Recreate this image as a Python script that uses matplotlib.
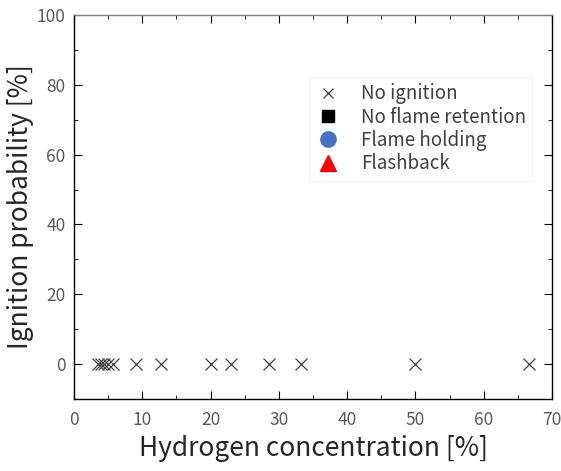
import matplotlib
matplotlib.use("Agg")
import matplotlib.pyplot as plt
from matplotlib.ticker import MultipleLocator
from matplotlib.lines import Line2D

plt.rcParams['font.family'] = ['Noto Sans CJK JP', 'DejaVu Sans']

# data
no_ignition_x = [3.5, 4.0, 4.4, 4.9, 5.7, 9.1, 12.8, 20.0, 23.0, 28.6, 33.3, 50.0, 66.7]
no_ignition_y = [0, 0, 0, 0, 0, 0, 0, 0, 0, 0, 0, 0, 0]
legend_labels = ["No ignition", "No flame retention", "Flame holding", "Flashback"]

fig = plt.figure(figsize=(5.61, 4.71), dpi=100)
ax = fig.add_axes([0.132, 0.153, 0.852, 0.815])

# points
ax.plot(no_ignition_x, no_ignition_y, 'x', color='#404040', markersize=9,
        markeredgewidth=0.9, linestyle='none')

ax.set_xlim(0, 70)
ax.set_ylim(-10, 100)
ax.xaxis.set_major_locator(MultipleLocator(10))
ax.xaxis.set_minor_locator(MultipleLocator(5))
ax.yaxis.set_major_locator(MultipleLocator(20))
ax.yaxis.set_minor_locator(MultipleLocator(10))
ax.tick_params(which='both', direction='in', colors='black', labelcolor='#595959',
               labelsize=12.5, top=True, right=True)
ax.tick_params(which='major', length=6)
ax.tick_params(axis='x', which='major', pad=9)
ax.tick_params(axis='y', which='major', pad=6)
ax.tick_params(which='minor', length=3)
ax.spines['top'].set_color('#808080')
for s in ax.spines.values():
    s.set_linewidth(1.0)

ax.set_xlabel("Hydrogen concentration [%]", fontsize=19, color='#262626', labelpad=4)
ax.set_ylabel("Ignition probability [%]", fontsize=19, color='#262626', labelpad=2)

# legend
handles = [
    Line2D([], [], marker='x', color='#404040', linestyle='none', markersize=7, markeredgewidth=0.9),
    Line2D([], [], marker='s', color='black', linestyle='none', markersize=9),
    Line2D([], [], marker='o', color='#4472C4', linestyle='none', markersize=11),
    Line2D([], [], marker='^', color='red', linestyle='none', markersize=11),
]
leg = ax.legend(handles, legend_labels, loc='upper left', bbox_to_anchor=(0.492, 0.839),
                fontsize=13.5, frameon=True, fancybox=False, handletextpad=1.1,
                labelspacing=0.12, borderpad=0.35, handlelength=1.3, borderaxespad=0)
leg.get_frame().set_edgecolor('#f0f0f0')
leg.get_frame().set_linewidth(0.8)
for t in leg.get_texts():
    t.set_color('#404040')

fig.savefig("out.png", dpi=100)
